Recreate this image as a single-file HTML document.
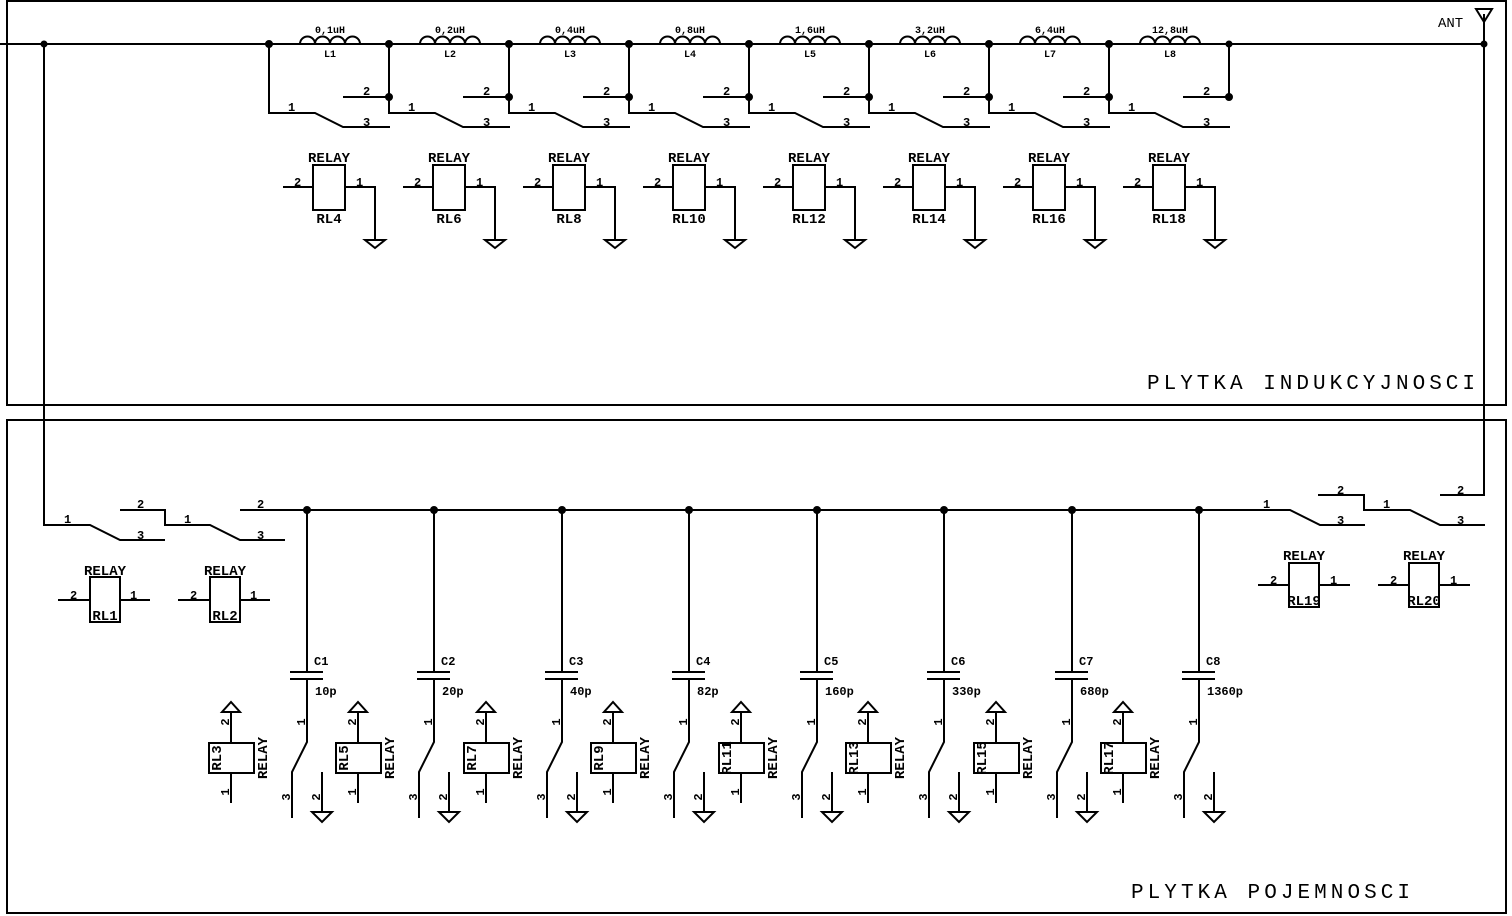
<!DOCTYPE html>
<html><head><meta charset="utf-8"><style>
html,body{margin:0;padding:0;background:#fff}
svg{display:block}
text{font-family:"Liberation Mono","DejaVu Sans Mono",monospace;fill:#000;font-weight:bold}
.s{font-size:10px}
.m{font-size:12px}
.r{font-size:14px;font-weight:normal}
.t{font-size:21px;font-weight:normal}
</style></head><body>
<svg width="1512" height="916" viewBox="0 0 1512 916" xmlns="http://www.w3.org/2000/svg">
<defs>
<g id="ib" fill="none" stroke="#000" stroke-width="2">
<path d="M269 44 V113 H315 L343 127 H390"/>
<path d="M343 97 H389"/>
<path d="M269 44 H300 a7.5 7.5 0 0 1 15 0 a7.5 7.5 0 0 1 15 0 a7.5 7.5 0 0 1 15 0 a7.5 7.5 0 0 1 15 0 H389"/>
<circle cx="269" cy="44" r="3" fill="#000"/>
<circle cx="389" cy="97" r="3" fill="#000"/>
</g>
<g id="rt" fill="none" stroke="#000" stroke-width="2">
<rect x="313" y="165" width="32" height="45"/>
<path d="M283 187 H313 M345 187 H375 V240"/>
<path d="M365 240 H385 L375 248 Z"/>
</g>
<g id="cb" fill="none" stroke="#000" stroke-width="2">
<circle cx="307" cy="510" r="3" fill="#000"/>
<path d="M307 510 V672 M290 672 H323 M290 679 H323 M307 679 V742 L292 772 V818"/>
<path d="M322 772 V812 M312 812 H332 L322 822 Z"/>
<rect x="209" y="743" width="45" height="30"/>
<path d="M231 712 V743 M231 773 V803 M222 712 H240 L231 702 Z"/>
</g>
</defs>
<g fill="none" stroke="#000" stroke-width="2">
<rect x="7" y="1" width="1499" height="404"/>
<rect x="7" y="420" width="1499" height="493"/>
<path d="M0 44 H1484"/>
<path d="M44 44 V525 H90 L120 540 H165"/>
<path d="M120 510 H165 V525 H210 L240 540 H285"/>
<path d="M240 510 H1290 L1320 525 H1365"/>
<path d="M1318 495 H1364 V510 H1410 L1440 525 H1485"/>
<path d="M1440 495 H1484 V14"/>
<path d="M1476 9 H1492 L1484 22 Z"/>
<path d="M1229 44 V97"/>
<rect x="90" y="577" width="30" height="45"/>
<path d="M58 600 H90 M120 600 H150"/>
<rect x="210" y="577" width="30" height="45"/>
<path d="M178 600 H210 M240 600 H270"/>
<rect x="1289" y="563" width="30" height="44"/>
<path d="M1258 585 H1289 M1319 585 H1350"/>
<rect x="1409" y="563" width="30" height="44"/>
<path d="M1378 585 H1409 M1439 585 H1470"/>
</g>
<circle cx="44" cy="44" r="3.5"/><circle cx="1229" cy="44" r="3.5"/><circle cx="1484" cy="44" r="3.5"/>

<use href="#ib"/><use href="#ib" x="120"/><use href="#ib" x="240"/><use href="#ib" x="360"/>
<use href="#ib" x="480"/><use href="#ib" x="600"/><use href="#ib" x="720"/><use href="#ib" x="840"/>
<use href="#rt"/><use href="#rt" x="120"/><use href="#rt" x="240"/><use href="#rt" x="360"/>
<use href="#rt" x="480"/><use href="#rt" x="600"/><use href="#rt" x="720"/><use href="#rt" x="840"/>
<use href="#cb"/><use href="#cb" x="127"/><use href="#cb" x="255"/><use href="#cb" x="382"/>
<use href="#cb" x="510"/><use href="#cb" x="637"/><use href="#cb" x="765"/><use href="#cb" x="892"/>

<g class="s" text-anchor="middle">
<text x="330" y="33">0,1uH</text><text x="330" y="57">L1</text>
<text x="450" y="33">0,2uH</text><text x="450" y="57">L2</text>
<text x="570" y="33">0,4uH</text><text x="570" y="57">L3</text>
<text x="690" y="33">0,8uH</text><text x="690" y="57">L4</text>
<text x="810" y="33">1,6uH</text><text x="810" y="57">L5</text>
<text x="930" y="33">3,2uH</text><text x="930" y="57">L6</text>
<text x="1050" y="33">6,4uH</text><text x="1050" y="57">L7</text>
<text x="1170" y="33">12,8uH</text><text x="1170" y="57">L8</text>
</g>
<g class="m">
<text x="288" y="111">1</text><text x="363" y="95">2</text><text x="363" y="126">3</text>
<text x="408" y="111">1</text><text x="483" y="95">2</text><text x="483" y="126">3</text>
<text x="528" y="111">1</text><text x="603" y="95">2</text><text x="603" y="126">3</text>
<text x="648" y="111">1</text><text x="723" y="95">2</text><text x="723" y="126">3</text>
<text x="768" y="111">1</text><text x="843" y="95">2</text><text x="843" y="126">3</text>
<text x="888" y="111">1</text><text x="963" y="95">2</text><text x="963" y="126">3</text>
<text x="1008" y="111">1</text><text x="1083" y="95">2</text><text x="1083" y="126">3</text>
<text x="1128" y="111">1</text><text x="1203" y="95">2</text><text x="1203" y="126">3</text>
<text x="294" y="186">2</text><text x="356" y="186">1</text>
<text x="414" y="186">2</text><text x="476" y="186">1</text>
<text x="534" y="186">2</text><text x="596" y="186">1</text>
<text x="654" y="186">2</text><text x="716" y="186">1</text>
<text x="774" y="186">2</text><text x="836" y="186">1</text>
<text x="894" y="186">2</text><text x="956" y="186">1</text>
<text x="1014" y="186">2</text><text x="1076" y="186">1</text>
<text x="1134" y="186">2</text><text x="1196" y="186">1</text>
<text x="64" y="523">1</text><text x="137" y="508">2</text><text x="137" y="539">3</text>
<text x="184" y="523">1</text><text x="257" y="508">2</text><text x="257" y="539">3</text>
<text x="1263" y="508">1</text><text x="1337" y="494">2</text><text x="1337" y="524">3</text>
<text x="1383" y="508">1</text><text x="1457" y="494">2</text><text x="1457" y="524">3</text>
<text x="70" y="599">2</text><text x="130" y="599">1</text>
<text x="190" y="599">2</text><text x="250" y="599">1</text>
<text x="1270" y="584">2</text><text x="1330" y="584">1</text>
<text x="1390" y="584">2</text><text x="1450" y="584">1</text>
</g>
<g class="r" text-anchor="middle">
<text x="329" y="162">RELAY</text><text x="329" y="223">RL4</text>
<text x="449" y="162">RELAY</text><text x="449" y="223">RL6</text>
<text x="569" y="162">RELAY</text><text x="569" y="223">RL8</text>
<text x="689" y="162">RELAY</text><text x="689" y="223">RL10</text>
<text x="809" y="162">RELAY</text><text x="809" y="223">RL12</text>
<text x="929" y="162">RELAY</text><text x="929" y="223">RL14</text>
<text x="1049" y="162">RELAY</text><text x="1049" y="223">RL16</text>
<text x="1169" y="162">RELAY</text><text x="1169" y="223">RL18</text>
<text x="105" y="575">RELAY</text><text x="105" y="620">RL1</text>
<text x="225" y="575">RELAY</text><text x="225" y="620">RL2</text>
<text x="1304" y="560">RELAY</text><text x="1304" y="605">RL19</text>
<text x="1424" y="560">RELAY</text><text x="1424" y="605">RL20</text>
</g>
<text x="1438" y="27" class="r">ANT</text>
<g class="m">
<text x="314" y="665">C1</text><text x="315" y="695">10p</text>
<text x="441" y="665">C2</text><text x="442" y="695">20p</text>
<text x="569" y="665">C3</text><text x="570" y="695">40p</text>
<text x="696" y="665">C4</text><text x="697" y="695">82p</text>
<text x="824" y="665">C5</text><text x="825" y="695">160p</text>
<text x="951" y="665">C6</text><text x="952" y="695">330p</text>
<text x="1079" y="665">C7</text><text x="1080" y="695">680p</text>
<text x="1206" y="665">C8</text><text x="1207" y="695">1360p</text>
</g>
<g class="r" text-anchor="middle">
<text transform="translate(267,758) rotate(-90)">RELAY</text><text transform="translate(221,758) rotate(-90)">RL3</text>
<text transform="translate(394,758) rotate(-90)">RELAY</text><text transform="translate(348,758) rotate(-90)">RL5</text>
<text transform="translate(522,758) rotate(-90)">RELAY</text><text transform="translate(476,758) rotate(-90)">RL7</text>
<text transform="translate(649,758) rotate(-90)">RELAY</text><text transform="translate(603,758) rotate(-90)">RL9</text>
<text transform="translate(777,758) rotate(-90)">RELAY</text><text transform="translate(731,758) rotate(-90)">RL11</text>
<text transform="translate(904,758) rotate(-90)">RELAY</text><text transform="translate(858,758) rotate(-90)">RL13</text>
<text transform="translate(1032,758) rotate(-90)">RELAY</text><text transform="translate(986,758) rotate(-90)">RL15</text>
<text transform="translate(1159,758) rotate(-90)">RELAY</text><text transform="translate(1113,758) rotate(-90)">RL17</text>
</g>
<g class="m" text-anchor="middle">
<text transform="translate(229,722) rotate(-90)">2</text><text transform="translate(229,792) rotate(-90)">1</text><text transform="translate(305,722) rotate(-90)">1</text><text transform="translate(290,797) rotate(-90)">3</text><text transform="translate(320,797) rotate(-90)">2</text>
<text transform="translate(356,722) rotate(-90)">2</text><text transform="translate(356,792) rotate(-90)">1</text><text transform="translate(432,722) rotate(-90)">1</text><text transform="translate(417,797) rotate(-90)">3</text><text transform="translate(447,797) rotate(-90)">2</text>
<text transform="translate(484,722) rotate(-90)">2</text><text transform="translate(484,792) rotate(-90)">1</text><text transform="translate(560,722) rotate(-90)">1</text><text transform="translate(545,797) rotate(-90)">3</text><text transform="translate(575,797) rotate(-90)">2</text>
<text transform="translate(611,722) rotate(-90)">2</text><text transform="translate(611,792) rotate(-90)">1</text><text transform="translate(687,722) rotate(-90)">1</text><text transform="translate(672,797) rotate(-90)">3</text><text transform="translate(702,797) rotate(-90)">2</text>
<text transform="translate(739,722) rotate(-90)">2</text><text transform="translate(739,792) rotate(-90)">1</text><text transform="translate(815,722) rotate(-90)">1</text><text transform="translate(800,797) rotate(-90)">3</text><text transform="translate(830,797) rotate(-90)">2</text>
<text transform="translate(866,722) rotate(-90)">2</text><text transform="translate(866,792) rotate(-90)">1</text><text transform="translate(942,722) rotate(-90)">1</text><text transform="translate(927,797) rotate(-90)">3</text><text transform="translate(957,797) rotate(-90)">2</text>
<text transform="translate(994,722) rotate(-90)">2</text><text transform="translate(994,792) rotate(-90)">1</text><text transform="translate(1070,722) rotate(-90)">1</text><text transform="translate(1055,797) rotate(-90)">3</text><text transform="translate(1085,797) rotate(-90)">2</text>
<text transform="translate(1121,722) rotate(-90)">2</text><text transform="translate(1121,792) rotate(-90)">1</text><text transform="translate(1197,722) rotate(-90)">1</text><text transform="translate(1182,797) rotate(-90)">3</text><text transform="translate(1212,797) rotate(-90)">2</text>
</g>
<text x="1147" y="389" class="t" textLength="328" lengthAdjust="spacing">PLYTKA INDUKCYJNOSCI</text>
<text x="1131" y="898" class="t" textLength="279" lengthAdjust="spacing">PLYTKA POJEMNOSCI</text>
</svg>
</body></html>
